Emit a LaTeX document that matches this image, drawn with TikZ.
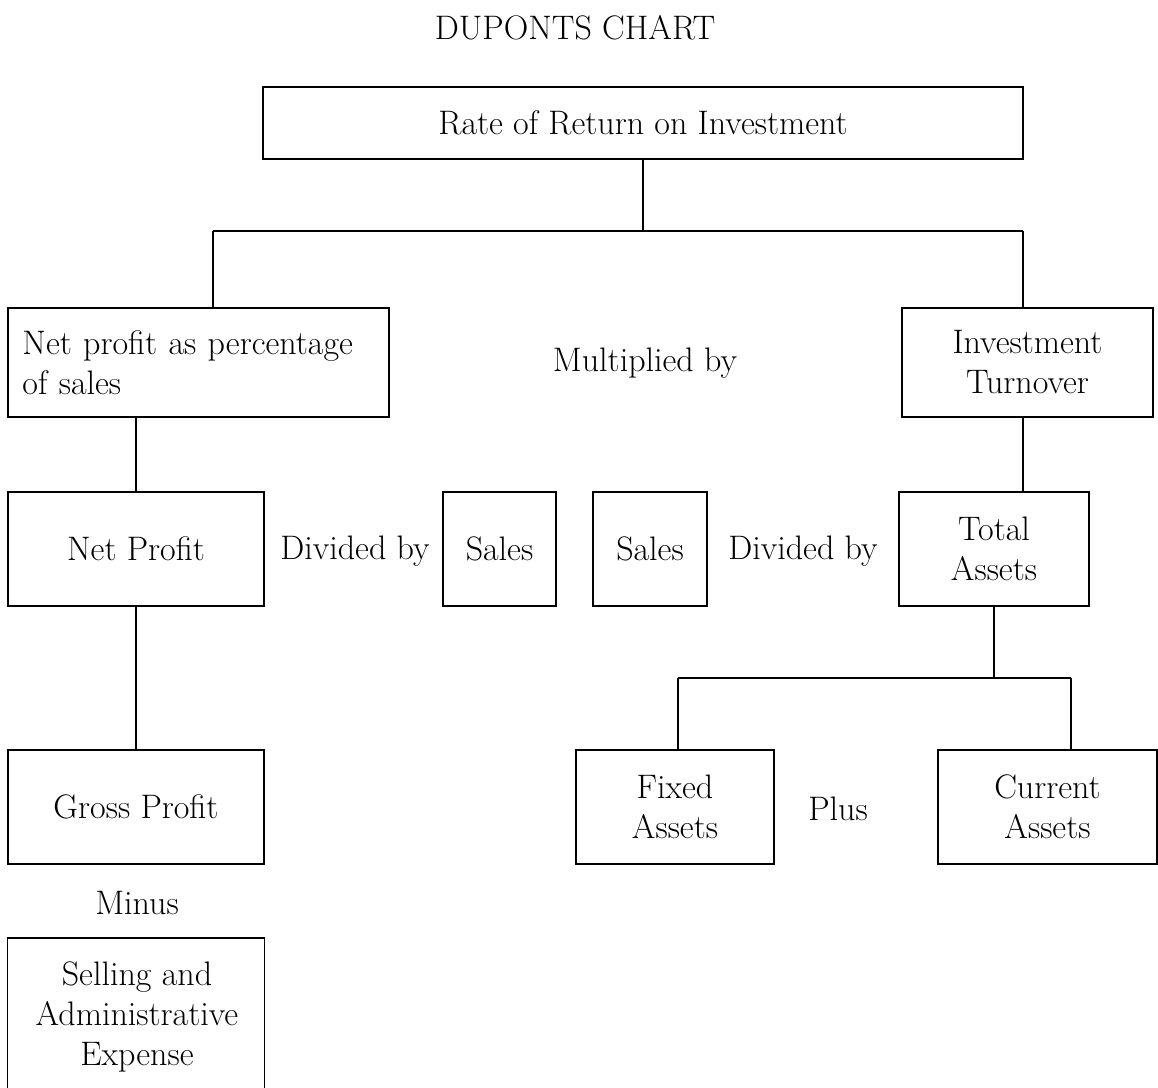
\documentclass[tikz,border=0pt]{standalone}
\usepackage{fontspec}
\begin{document}
\begin{tikzpicture}[x=0.5pt,y=-0.5pt,
  every node/.style={font=\fontsize{17}{20}\selectfont},
  box/.style={draw,line width=0.75pt,inner sep=0pt,align=center},
  conn/.style={line width=0.75pt}]
\useasboundingbox (0,0) rectangle (1158,1088);
\node (title) at (575,28) {DUPONTS CHART};
\node[box,minimum width=380pt,minimum height=36pt] (roi) at (643,123) {Rate of Return on Investment};
\node[box,minimum width=190.5pt,minimum height=54.5pt,align=left,text width=176pt] (np) at (198.5,362.5) {Net profit as percentage\\of sales};
\node (mult) at (645,363) {Multiplied by};
\node[box,minimum width=125.5pt,minimum height=54.5pt] (it) at (1027.5,362.5) {Investment\\Turnover};
\node[box,minimum width=128pt,minimum height=57pt] (npf) at (136,549) {Net Profit};
\node (div1) at (355,551) {Divided by};
\node[box,minimum width=56.5pt,minimum height=57pt] (s1) at (499.5,549) {Sales};
\node[box,minimum width=57pt,minimum height=57pt] (s2) at (650,549) {Sales};
\node (div2) at (803,551) {Divided by};
\node[box,minimum width=95pt,minimum height=57pt] (ta) at (994,549) {Total\\Assets};
\node[box,minimum width=128pt,minimum height=57pt] (gp) at (136,807) {Gross Profit};
\node (minus) at (137,903) {Minus};
\node[inner sep=0pt,minimum width=128pt,minimum height=80pt,anchor=north,align=center] (sel) at (136,938) {};
\node[anchor=north,align=center,inner sep=0pt] (seltext) at (137,961) {Selling and\\Administrative\\Expense};
\draw[conn] (sel.south west) |- (sel.north east) -- (sel.south east);
\node[box,minimum width=99pt,minimum height=57pt] (fa) at (675,807) {Fixed\\Assets};
\node (plus) at (838,809) {Plus};
\node[box,minimum width=109.5pt,minimum height=57pt] (ca) at (1047.5,807) {Current\\Assets};
\coordinate (bl) at (213,231);
\coordinate (br) at (1023,231);
\coordinate (tl) at (678,678);
\coordinate (tr) at (1071,678);
\draw[conn] (roi.south) -- (roi.south |- bl);
\draw[conn] (bl) -- (br);
\draw[conn] (bl) -- (bl |- np.north);
\draw[conn] (br) -- (br |- it.north);
\draw[conn] (np.south -| npf.north) -- (npf.north);
\draw[conn] (npf.south) -- (gp.north);
\draw[conn] (br |- it.south) -- (br |- ta.north);
\draw[conn] (ta.south) -- (ta.south |- tl);
\draw[conn] (tl) -- (tr);
\draw[conn] (tl) -- (tl |- fa.north);
\draw[conn] (tr) -- (tr |- ca.north);
\end{tikzpicture}
\end{document}
